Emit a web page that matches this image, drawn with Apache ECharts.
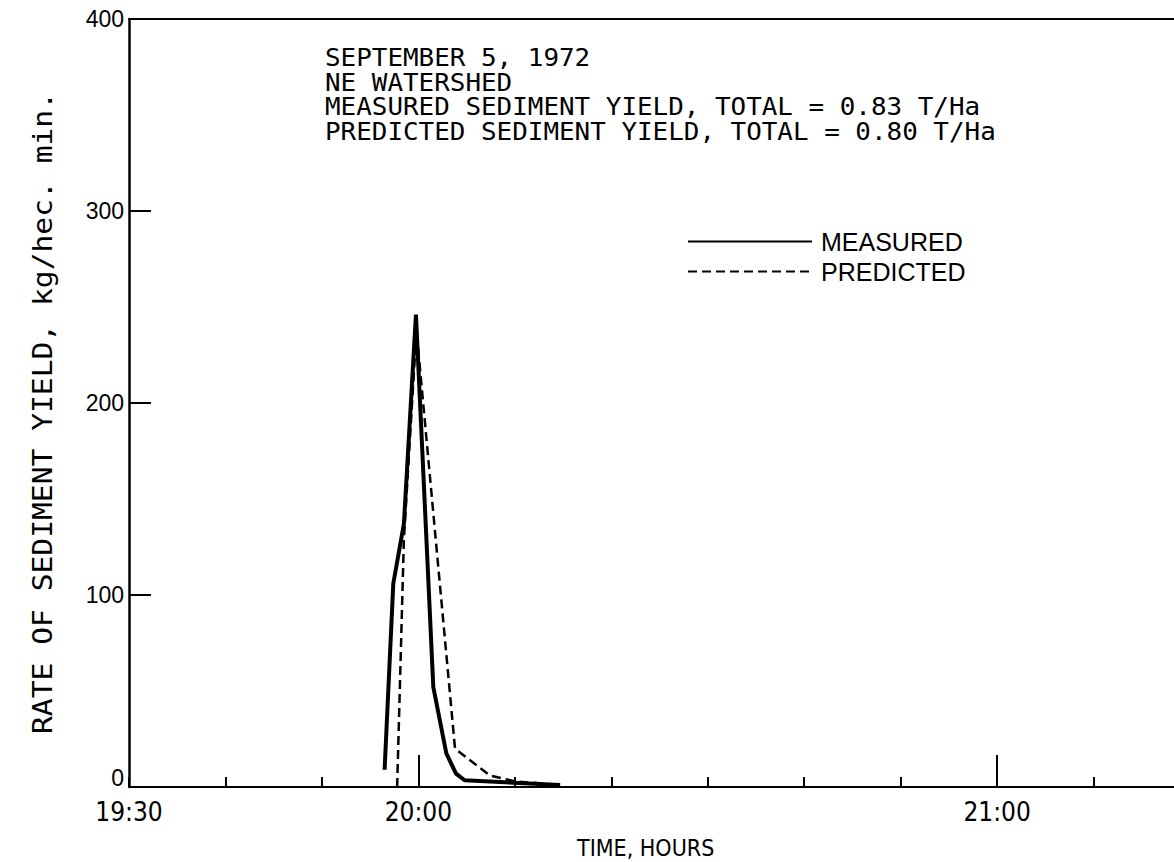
<!DOCTYPE html>
<html>
<head>
<meta charset="utf-8">
<script src="https://cdn.jsdelivr.net/npm/echarts@6/dist/echarts.min.js"></script>
<style>
html,body{margin:0;padding:0;background:#fff;}
#c{width:1174px;height:862px;}
</style>
</head>
<body>
<div id="c"></div>
<script>
// time in minutes since midnight (19:30 = 1170)
const measuredTime  = [1196.5, 1197.4, 1198.5, 1199.75, 1201.55, 1202.9, 1203.9, 1204.8, 1214.7];
const measuredValue = [9, 106, 137, 246, 52, 17.5, 7, 3.5, 1];
const predictedTime  = [1197.8, 1198.5, 1199.8, 1203.8, 1207.4, 1210, 1214.7];
const predictedValue = [0, 129, 238, 20, 6, 3, 1];
const xLabelValues = [1170, 1200, 1260];
const xLabelTexts  = ['19:30', '20:00', '21:00'];
const xMajorTicks  = [1200, 1260];
const annotationLines = [
  'SEPTEMBER 5, 1972',
  'NE WATERSHED',
  'MEASURED SEDIMENT YIELD, TOTAL = 0.83 T/Ha',
  'PREDICTED SEDIMENT YIELD, TOTAL = 0.80 T/Ha'
];
const seriesNames = ['MEASURED', 'PREDICTED'];
const xTitle = 'TIME, HOURS';
const yTitle = 'RATE OF SEDIMENT YIELD, kg/hec. min.';

const NARROW = "'Liberation Sans Narrow','DejaVu Sans Condensed','Liberation Sans',sans-serif";
const SANS = "'Liberation Sans','DejaVu Sans',sans-serif";
const MONO = "'DejaVu Sans Mono','Liberation Mono',monospace";

const zip = (t, v) => t.map((x, i) => [x, v[i]]);

const chart = echarts.init(document.getElementById('c'), null, {renderer: 'svg'});
const X_MIN = 1170, X_MAX = 1280;
chart.setOption({
  animation: false,
  backgroundColor: '#fff',
  grid: {left: 129, top: 19, bottom: 75, width: 1061, outerBoundsMode: 'none'},
  xAxis: [
    {
      type: 'value', min: X_MIN, max: X_MAX, interval: 10, position: 'bottom',
      axisLine: {show: true, onZero: false, lineStyle: {color: '#000', width: 2}},
      axisTick: {show: true, inside: true, length: 10, lineStyle: {color: '#000', width: 2}},
      splitLine: {show: false},
      axisLabel: {
        customValues: xLabelValues,
        formatter: v => xLabelTexts[xLabelValues.indexOf(v)] || '',
        color: '#000', fontFamily: NARROW, fontSize: 26, margin: 12
      }
    },
    {
      type: 'value', min: X_MIN, max: X_MAX, position: 'bottom',
      axisLine: {show: false},
      axisTick: {show: true, inside: true, length: 32, customValues: xMajorTicks, lineStyle: {color: '#000', width: 2}},
      axisLabel: {show: false},
      splitLine: {show: false}
    },
    {
      type: 'value', min: X_MIN, max: X_MAX, position: 'top',
      axisLine: {show: true, lineStyle: {color: '#000', width: 2}},
      axisTick: {show: false}, axisLabel: {show: false}, splitLine: {show: false}
    }
  ],
  yAxis: {
    type: 'value', min: 0, max: 400, interval: 100,
    axisLine: {show: true, lineStyle: {color: '#000', width: 2.5}},
    axisTick: {show: true, inside: true, length: 22, lineStyle: {color: '#000', width: 2}},
    splitLine: {show: false},
    axisLabel: {
      color: '#000', fontFamily: SANS, fontSize: 23, margin: 5,
      formatter: v => v === 0 ? '{z|0}' : String(v),
      rich: {z: {fontFamily: SANS, fontSize: 23, color: '#000', padding: [0, 0, 18, 0]}}
    }
  },
  legend: {
    orient: 'vertical', left: 682, top: 224, itemWidth: 124, itemHeight: 14, itemGap: 5,
    itemStyle: {opacity: 0, borderWidth: 0},
    textStyle: {color: '#000', fontFamily: SANS, fontSize: 25, padding: [0, 0, 0, 4]},
    data: seriesNames
  },
  graphic: [
    {
      type: 'text', left: 325, top: 46, scaleX: 1.08, originX: 0,
      style: {text: annotationLines.join('\n'), fill: '#000', font: "24px " + MONO, lineHeight: 24.5}
    },
    {
      type: 'text', x: 43, y: 413, rotation: Math.PI / 2, scaleX: 1.14,
      style: {text: yTitle, fill: '#000', font: "26px " + MONO, align: 'center', verticalAlign: 'middle'}
    },
    {
      type: 'text', left: 577, top: 836,
      style: {text: xTitle, fill: '#000', font: "23px " + NARROW}
    }
  ],
  series: [
    {
      name: seriesNames[0], type: 'line', data: zip(measuredTime, measuredValue),
      symbol: 'none', lineStyle: {color: '#000', width: 4}, itemStyle: {color: '#000'}
    },
    {
      name: seriesNames[1], type: 'line', data: zip(predictedTime, predictedValue),
      symbol: 'none', lineStyle: {color: '#000', width: 2.5, type: [9, 5]}, itemStyle: {color: '#000'}
    }
  ]
});
</script>
</body>
</html>
